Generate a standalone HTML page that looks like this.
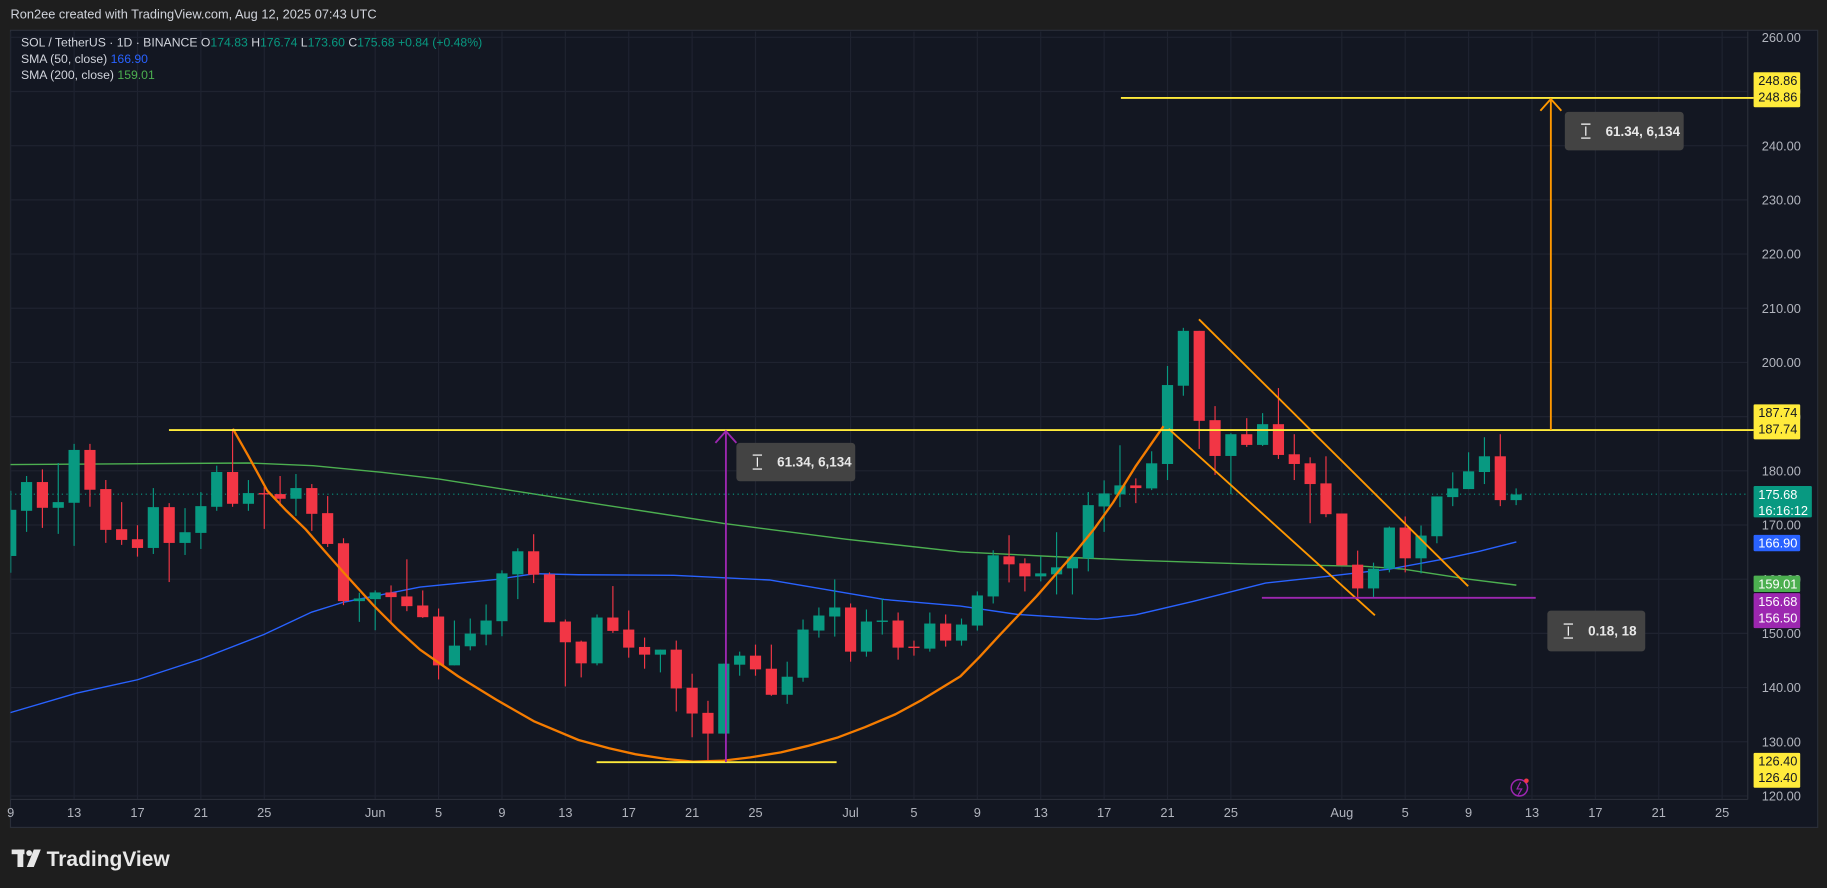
<!DOCTYPE html>
<html><head><meta charset="utf-8">
<style>
html,body{margin:0;padding:0;background:#1e1e1e;width:1827px;height:888px;overflow:hidden}
svg{display:block}
text{font-family:"Liberation Sans",sans-serif}
</style></head>
<body>
<svg id="s" width="1827" height="888" viewBox="0 0 1568 762" preserveAspectRatio="none" xmlns="http://www.w3.org/2000/svg">
<rect x="0" y="0" width="1568" height="762" fill="#1e1e1e"/>
<text x="9" y="16" font-size="11" fill="#d1d4dc">Ron2ee created with TradingView.com, Aug 12, 2025 07:43 UTC</text>
<rect x="9" y="26" width="1551" height="684" fill="#131722" stroke="#2a2e39" stroke-width="1"/>
<g id="grid"></g>
<g id="draw"></g>
<text x="18" y="40" font-size="10.5" fill="#d1d4dc">SOL / TetherUS · 1D · BINANCE <tspan fill="#d1d4dc"> O</tspan><tspan fill="#089981">174.83</tspan><tspan fill="#d1d4dc">  H</tspan><tspan fill="#089981">176.74</tspan><tspan fill="#d1d4dc">  L</tspan><tspan fill="#089981">173.60</tspan><tspan fill="#d1d4dc">  C</tspan><tspan fill="#089981">175.68  +0.84 (+0.48%)</tspan></text>
<text x="18" y="54" font-size="10.5" fill="#d1d4dc">SMA (50, close) <tspan fill="#2962ff"> 166.90</tspan></text>
<text x="18" y="68" font-size="10.5" fill="#d1d4dc">SMA (200, close) <tspan fill="#4caf50"> 159.01</tspan></text>
<g id="axis"></g>
<g transform="translate(10,728)">
<rect x="0" y="1" width="11" height="4" fill="#e8e8e8"/>
<rect x="5" y="1" width="5" height="15" fill="#e8e8e8"/>
<circle cx="15" cy="4" r="2.5" fill="#e8e8e8"/>
<polygon points="19,1 25,1 19,16 13,16" fill="#e8e8e8"/>
<text x="30" y="15" font-size="18" font-weight="bold" fill="#e8e8e8">TradingView</text>
</g>
</svg>
<script>
function Y(p){return 32+(260-p)*4.65;}
function X(d){return 322+13.6*d;}
function P4(zy){return 187.74-(zy-30)/16.2;}
function P6(zy){return 187.74-(zy-389)/16.2;}
var g="",dr="",ax="";
for(var p=120;p<=260;p+=10){g+='<line x1="9" x2="1500" y1="'+Y(p)+'" y2="'+Y(p)+'" stroke="#1f2330" stroke-width="1"/>';
 ax+='<text x="1512" y="'+(Y(p)+4)+'" font-size="11" fill="#b2b5be">'+p.toFixed(2)+'</text>';}
var dl=[[-23,"9"],[-19,"13"],[-15,"17"],[-11,"21"],[-7,"25"],[0,"Jun"],[4,"5"],[8,"9"],[12,"13"],[16,"17"],[20,"21"],[24,"25"],[30,"Jul"],[34,"5"],[38,"9"],[42,"13"],[46,"17"],[50,"21"],[54,"25"],[61,"Aug"],[65,"5"],[69,"9"],[73,"13"],[77,"17"],[81,"21"],[85,"25"]];
dl.forEach(function(a){var x=X(a[0]);g+='<line x1="'+x+'" x2="'+x+'" y1="27" y2="686" stroke="#1f2330" stroke-width="1"/>';
 ax+='<text x="'+x+'" y="701" font-size="11" fill="#b2b5be" text-anchor="middle">'+a[1]+'</text>';});
g+='<line x1="1500" x2="1500" y1="27" y2="686" stroke="#2a2e39"/><line x1="9" x2="1500" y1="686" y2="686" stroke="#2a2e39"/>';
var C=[
[-23,'G',272,410,215,460,4],[-22,'G',189,275,171,338,4],[-21,'R',189,266,151,326,4],[-20,'G',249,266,132,344,4],[-19,'G',93,251,75,380,4],[-18,'R',93,212,75,263,4],[-17,'R',210,332,183,371,4],[-16,'R',330,362,249,377,4],[-15,'R',360,386,318,412,4],[-14,'G',264,386,207,404,4],[-13,'R',264,371,252,488,4],[-12,'G',339,371,267,407,4],[-11,'G',261,341,219,389,4],[-10,'G',159,263,140,275,4],[-9,'R',159,254,30,263,4],[-8,'G',222,254,183,275,4],[-7,'R',222,224,204,329,4],[-6,'R',225,239,171,260,4],[-5,'G',207,239,165,290,4],[-4,'R',207,284,195,335,4],[-3,'R',282,374,231,383,4],[-2,'R',372,545,357,557,4],[-1,'G',537,545,520,607,4],[0,'G',519,539,513,632,4],[1,'R',519,533,498,607,4],[2,'R',531,560,420,575,4],[3,'R',558,593,513,595,4],[4,'R',591,737,567,779,4],[5,'G',678,737,603,737,4],[6,'G',642,680,597,692,4],[7,'G',603,645,555,677,4],[8,'G',462,605,453,650,4],[9,'G',396,465,387,539,4],[10,'R',396,466,345,491,4],[11,'R',465,608,459,608,4],[12,'R',606,668,600,800,4],[13,'R',666,731,663,773,4],[14,'G',594,731,585,737,4],
[15,'R',594,634,500,640,4],[16,'R',630,684,573,714,4],[17,'R',682,705,654,747,4],[18,'G',690,705,690,758,4],[19,'R',690,806,663,875,4],[20,'R',804,881,762,952,4],[21,'R',879,941,843,1025,4],[22,'G',732,941,732,941,4],[23,'G',708,735,696,768,4],[24,'R',708,749,675,768,4],[25,'R',747,825,675,828,4],[26,'G',771,825,726,852,4],[27,'G',630,774,600,786,4],[28,'G',588,633,564,654,4],[29,'G',564,591,480,651,4],[30,'R',564,696,552,726,4],[31,'G',606,696,570,711,4],[32,'G',603,605,537,645,4],[33,'R',603,684,579,720,4],[34,'R',681,683,663,708,4],[35,'G',612,687,579,696,4],[36,'R',612,663,585,681,4],[37,'G',615,663,597,678,4],[38,'G',528,618,516,633,4],[39,'G',408,531,393,552,4],[40,'R',411,435,348,489,4],[41,'R',432,471,417,516,4],[42,'G',462,471,411,486,4],[43,'G',444,465,339,525,4],[44,'G',414,447,408,525,4],[45,'G',258,417,219,456,4],
[46,'G',582,621,543,697,6],[47,'G',558,585,438,623,6],[48,'R',558,566,537,611,6],[49,'G',492,567,456,572,6],[50,'G',258,494,201,542,6],[51,'G',96,260,87,290,6],[52,'R',96,365,96,449,6],[53,'R',363,470,321,527,6],[54,'G',405,470,402,584,6],[55,'R',405,437,357,443,6],[56,'G',375,437,342,440,6],[57,'R',375,467,267,479,6],[58,'R',465,494,405,542,6],[59,'R',492,554,474,671,6],[60,'R',552,644,471,653,6],[61,'R',642,797,642,797,6],[62,'R',795,866,753,893,6],[63,'G',807,866,789,896,6],[64,'G',684,807,681,818,6],[65,'R',684,776,651,818,6],[66,'G',708,776,678,821,6],[67,'G',591,710,591,731,6],[68,'G',567,593,519,620,6],[69,'G',516,569,459,569,6],[70,'G',471,518,414,554,6],[71,'R',471,602,405,620,6],[72,'G',585,602,567,617,6]];
var cs="";
C.forEach(function(c){var f=c[6]==4?P4:P6;var col=c[1]=='G'?'#089981':'#f23645';var x=X(c[0]);
 var t=Y(f(c[2])),b=Y(f(c[3])),h=Y(f(c[4])),l=Y(f(c[5]));if(b-t<1.2){b=t+1.2;}
 cs+='<line x1="'+x+'" x2="'+x+'" y1="'+h+'" y2="'+l+'" stroke="'+col+'" stroke-width="1"/>';
 cs+='<rect x="'+(x-4.8)+'" y="'+t+'" width="9.6" height="'+(b-t)+'" fill="'+col+'"/>';});
function pts(arr){return arr.map(function(a){var d,p;
 if(a[0]==4){d=-23+(a[1]-28)/41.5;p=P4(a[2]);}else if(a[0]==5){d=13+(a[1]-7)/41.5;p=P4(a[2]);}else{d=49+(a[1]-142)/41.5;p=P6(a[2]);}
 return X(d).toFixed(1)+','+Y(p).toFixed(1);}).join(' ');}
var sma50=[[4,10,885],[4,28,878],[4,200,820],[4,360,780],[4,526,718],[4,691,645],[4,816,578],[4,900,548],[4,1100,503],[4,1300,480],[4,1400,463],[5,0,466],[5,250,468],[5,500,482],[5,800,540],[5,1000,560],[5,1150,585],[5,1330,598],[6,0,958],[6,100,945],[6,250,905],[6,440,850],[6,600,830],[6,765,808],[6,900,780],[6,1000,755],[6,1097,727]];
var sma200=[[4,10,137],[4,650,132],[4,820,140],[4,1000,160],[4,1150,180],[4,1400,225],[4,1568,255],[5,380,313],[5,700,360],[5,1000,398],[5,1300,415],[6,100,782],[6,400,793],[6,700,800],[6,800,808],[6,970,838],[6,1097,856]];
var cup=[[4,610,30],[4,650,110],[4,700,215],[4,750,275],[4,800,330],[4,850,395],[4,900,460],[4,980,560],[4,1040,628],[4,1100,690],[4,1200,770],[4,1300,840],[4,1400,905],[5,0,960],[5,80,985],[5,150,1003],[5,230,1017],[5,300,1025],[5,380,1022],[5,450,1012],[5,530,997],[5,600,978],[5,680,952],[5,750,922],[5,830,883],[5,900,840],[5,1000,770],[5,1050,712],[5,1100,650],[5,1150,590],[5,1200,530],[5,1250,465],[5,1300,400],[5,1350,330],[5,1400,250],[5,1460,140],[5,1532,22]];
dr+='<polyline points="'+pts(sma200)+'" fill="none" stroke="#4caf50" stroke-width="1.2"/>';
dr+='<polyline points="'+pts(sma50)+'" fill="none" stroke="#2962ff" stroke-width="1.2"/>';
dr+='<line x1="9" x2="1500" y1="'+Y(175.68)+'" y2="'+Y(175.68)+'" stroke="#089981" stroke-width="1" stroke-dasharray="1,3"/>';
dr+=cs;
dr+='<polyline points="'+pts(cup)+'" fill="none" stroke="#f57c00" stroke-width="2" stroke-linejoin="round"/>';
dr+='<line x1="1029" y1="274" x2="1260" y2="503" stroke="#ff9800" stroke-width="1.6"/>';
dr+='<line x1="1003" y1="368" x2="1180" y2="528" stroke="#ff9800" stroke-width="1.6"/>';
dr+='<line x1="145" x2="1505" y1="369" y2="369" stroke="#ffeb3b" stroke-width="1.6"/>';
dr+='<line x1="962" x2="1505" y1="84" y2="84" stroke="#ffeb3b" stroke-width="1.6"/>';
dr+='<line x1="512" x2="718" y1="654" y2="654" stroke="#ffeb3b" stroke-width="1.6"/>';
dr+='<line x1="1083" x2="1318" y1="513" y2="513" stroke="#9c27b0" stroke-width="1.6"/>';
dr+='<line x1="623" x2="623" y1="654" y2="370" stroke="#9c27b0" stroke-width="1.6"/><polyline points="614,380 623,370 632,380" fill="none" stroke="#9c27b0" stroke-width="1.6"/>';
dr+='<line x1="1331" x2="1331" y1="369" y2="85" stroke="#ff9800" stroke-width="1.6"/><polyline points="1322,95 1331,85 1340,95" fill="none" stroke="#ff9800" stroke-width="1.6"/>';
function tip(x,y,w,h,t){return '<rect x="'+x+'" y="'+y+'" width="'+w+'" height="'+h+'" rx="3" fill="#434343"/>'+
 '<g stroke="#fff" stroke-width="1" fill="none"><line x1="'+(x+14)+'" x2="'+(x+22)+'" y1="'+(y+h/2-6)+'" y2="'+(y+h/2-6)+'"/><line x1="'+(x+14)+'" x2="'+(x+22)+'" y1="'+(y+h/2+6)+'" y2="'+(y+h/2+6)+'"/><line x1="'+(x+18)+'" x2="'+(x+18)+'" y1="'+(y+h/2-4)+'" y2="'+(y+h/2+4)+'"/></g>'+
 '<text x="'+(x+35)+'" y="'+(y+h/2+4)+'" font-size="11.5" font-weight="bold" fill="#e8e8e8">'+t+'</text>';}
dr+=tip(632,380,102,33,'61.34, 6,134');
dr+=tip(1343,96,102,33,'61.34, 6,134');
dr+=tip(1328,524,84,35,'0.18, 18');
dr+='<circle cx="1304" cy="676" r="7" fill="none" stroke="#9c27b0" stroke-width="1.3"/><polyline points="1305,671 1302,677 1306,677 1303,682" fill="none" stroke="#9c27b0" stroke-width="1"/><circle cx="1310" cy="670" r="2" fill="#f23645"/>';
function tag(y,h,bg,fg,lines,w){var s='<rect x="1505" y="'+y+'" width="'+(w||40)+'" height="'+h+'" rx="1" fill="'+bg+'"/>';
 lines.forEach(function(t,i){s+='<text x="1509" y="'+(y+11+i*14)+'" font-size="11" fill="'+fg+'">'+t+'</text>';});return s;}
ax+=tag(62,30,'#ffeb3b','#131722',['248.86','248.86']);
ax+=tag(347,30,'#ffeb3b','#131722',['187.74','187.74']);
ax+=tag(417,27,'#089981','#ffffff',['175.68','16:16:12'],50);
ax+=tag(459,14,'#2962ff','#ffffff',['166.90']);
ax+=tag(494,14,'#4caf50','#ffffff',['159.01']);
ax+=tag(509,30,'#9c27b0','#ffffff',['156.68','156.50']);
ax+=tag(646,30,'#ffeb3b','#131722',['126.40','126.40']);
document.getElementById('grid').innerHTML=g;
document.getElementById('draw').innerHTML='<clipPath id="cp"><rect x="9" y="27" width="1496" height="659"/></clipPath><g clip-path="url(#cp)">'+dr+'</g>';
document.getElementById('axis').innerHTML=ax;
</script>
</body></html>
